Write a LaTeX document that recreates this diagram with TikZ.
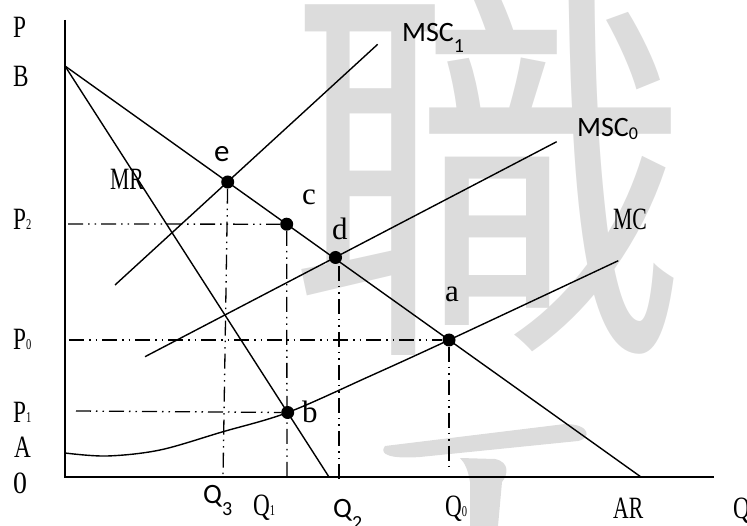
\documentclass[tikz,border=0pt]{standalone}
\usepackage{fontspec}
\newfontfamily\labfont{Liberation Serif}
\newfontfamily\calfont{Carlito}
\newfontfamily\cjkfont{Noto Sans CJK TC}
\newcommand\cn[1]{\scalebox{0.75}[1]{#1}}
\newcommand\ssub[1]{\scalebox{0.7}[1]{\fontsize{15}{15}\selectfont #1}}
\newcommand\csub[2]{\raisebox{-#1pt}{\fontsize{20}{20}\selectfont #2}}
\definecolor{wm}{HTML}{DCDCDC}
\begin{document}
\begin{tikzpicture}[x=1pt,y=-1pt,
  axis/.style={line width=1.9pt},
  curve/.style={line width=1.4pt},
  guide/.style={line width=1.3pt, dash pattern=on 15pt off 5pt on 1.5pt off 5pt on 1.5pt off 5pt},
  dot/.style={circle, fill=black, inner sep=0pt, minimum size=13pt},
  lbl/.style={inner sep=0pt, anchor=base west, font=\labfont\fontsize{31}{31}\selectfont},
  sans/.style={inner sep=0pt, anchor=base west, font=\calfont\fontsize{28}{28}\selectfont}]
\useasboundingbox (0,0) rectangle (747,526);
% watermark
\begin{scope}
\clip (0,0) rectangle (747,526);
\node[text=wm, inner sep=0pt, font=\cjkfont\fontsize{400}{400}\selectfont] (wm1) at (488,172) {職};
\fill[wm] (385,446) .. controls (378,455) and (392,459) .. (420,457) -- (578,441) .. controls (592,438) and (590,424) .. (565,424) -- cycle;
\fill[wm] (460,458) -- (495,459) .. controls (510,462) and (508,475) .. (502,482) -- (498,526) -- (470,526) -- (470,482) .. controls (468,470) and (465,463) .. (460,458) -- cycle;
\end{scope}
% coordinates
\coordinate (Ptop) at (65,20);
\coordinate (O) at (65,477);
\coordinate (Qend) at (714,477);
\coordinate (B) at (65,66);
\coordinate (ARend) at (641,477);
\coordinate (MRend) at (329,477);
\coordinate (S1a) at (115,285);
\coordinate (S1b) at (377.7,44.3);
\coordinate (S0a) at (145,356.7);
\coordinate (S0b) at (556.7,141.7);
\coordinate (P2L) at (68,224);
\coordinate (P0L) at (69,340);
\coordinate (P1L) at (76,411);
\coordinate (Q3f) at (223,478);
\coordinate (Q1f) at (287,477);
\coordinate (Q2f) at (339,482);
\coordinate (Q0f) at (449,471);
% axes
\draw[axis] (Ptop) -- (O) -- (Qend);
% curves
\draw[curve] (B) -- (ARend);
\draw[curve] (B) -- (MRend);
\draw[curve] (S1a) -- (S1b);
\draw[curve] (S0a) -- (S0b);
\draw[curve] plot[smooth, tension=0.55] coordinates {(65,453) (107,456) (160,450) (222,432) (287.7,412.5) (368,377) (449,340) (618.3,260.7)};
% points
\node[dot] (e) at (227.7,182) {};
\node[dot] (c) at (286.7,224.2) {};
\node[dot] (d) at (335.5,257.5) {};
\node[dot] (a) at (449,340) {};
\node[dot] (b) at (287.7,412.5) {};
% guides
\draw[guide] (P2L) -- (c);
\draw[guide] (P0L) -- (a);
\draw[guide] (P1L) -- (b);
\draw[guide] (e) -- (Q3f);
\draw[guide] (c) -- (Q1f);
\draw[guide] (339,266) -- (Q2f);
\draw[guide] (a) -- (Q0f);
% left labels
\node[lbl] (lP) at (13,38) {\cn{P}};
\node[lbl] (lB) at (13,87) {\cn{B}};
\node[lbl] (lP2) at (13,230) {\cn{P}\ssub{2}};
\node[lbl] (lP0) at (13,350) {\cn{P}\ssub{0}};
\node[lbl] (lP1) at (13,422) {\cn{P}\ssub{1}};
\node[lbl] (lA) at (14,457) {\cn{A}};
\node[lbl] (lO) at (13,493) {\scalebox{0.9}[1]{0}};
% curve labels
\node[lbl] (lMR) at (110,190) {\scalebox{0.7}[1]{MR}};
\node[lbl] (lMC) at (613,230) {\scalebox{0.7}[1]{MC}};
\node[lbl] (lAR) at (613,518) {\scalebox{0.7}[1]{AR}};
\node[lbl] (lQ) at (733,518) {\cn{Q}};
\node[sans] (lS1) at (402,42) {MSC\csub{11}{1}};
\node[sans] (lS0) at (577,137) {MSC\raisebox{-3pt}{\fontsize{18}{18}\selectfont 0}};
% point labels
\node[sans, font=\calfont\fontsize{31}{31}\selectfont] (le) at (214,162) {e};
\node[lbl] (lc) at (302,205) {c};
\node[lbl] (ld) at (332,240) {d};
\node[lbl] (la) at (445,302) {a};
\node[lbl] (lb) at (302,423) {b};
% quantity labels
\node[sans] (lQ3) at (203,503) {Q\csub{12}{3}};
\node[lbl] (lQ1) at (253,515) {\cn{Q}\ssub{1}};
\node[sans] (lQ2) at (333,517) {Q\csub{12}{2}};
\node[lbl] (lQ0) at (445,516) {\cn{Q}\ssub{0}};
\end{tikzpicture}
\end{document}
